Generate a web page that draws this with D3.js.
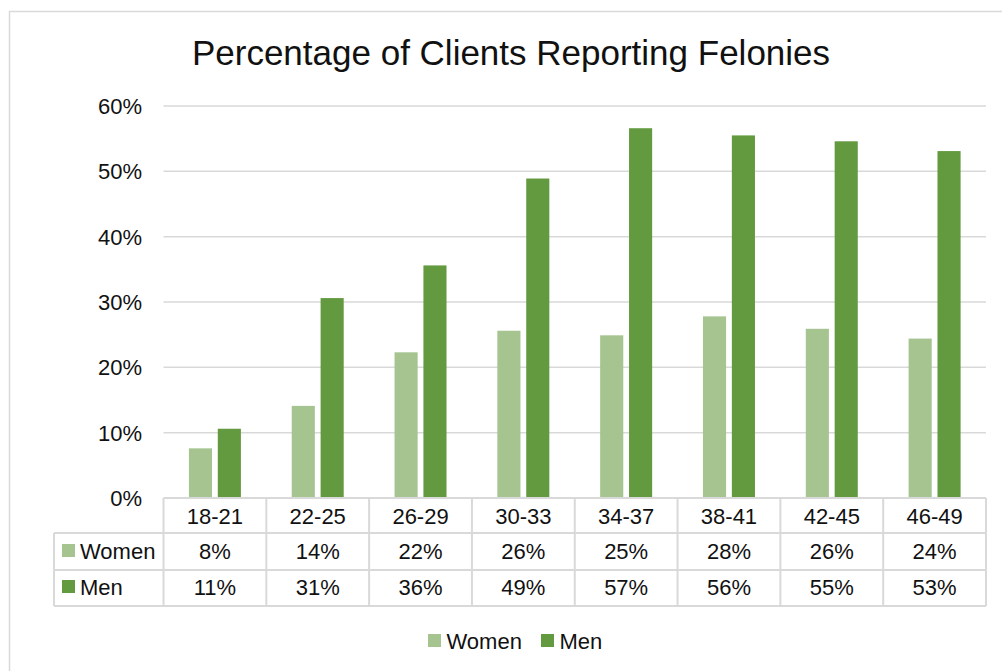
<!DOCTYPE html>
<html>
<head>
<meta charset="utf-8">
<script src="https://cdn.jsdelivr.net/npm/d3@7"></script>
<style>
body { margin: 0; background: #fff; }
text { font-family: "Liberation Sans", Arial, sans-serif; fill: #111; }
.grid line { stroke: #d9d9d9; stroke-width: 1.5; }
.tbl line { stroke: #d9d9d9; stroke-width: 2; }
</style>
</head>
<body>
<svg id="chart"></svg>
<script>
var ageGroups = ["18-21", "22-25", "26-29", "30-33", "34-37", "38-41", "42-45", "46-49"];
var seriesNames = ["Women", "Men"];
var women = [0.076, 0.141, 0.223, 0.256, 0.249, 0.278, 0.259, 0.244];
var men = [0.106, 0.306, 0.356, 0.489, 0.566, 0.555, 0.546, 0.531];
var colors = ["#a5c490", "#639a3f"];
var yTicks = [0, 0.1, 0.2, 0.3, 0.4, 0.5, 0.6];

var width = 1002;
var height = 671;
var plotLeft = 163.5;
var plotRight = 986;
var plotTop = 106;
var plotBottom = 498;
var rowTop = [498, 533, 570, 606];
var keyLeft = 54;
var smallFont = "22px";

var svg = d3.select("#chart")
.attr("width", width)
.attr("height", height);

// chart frame
svg.append("path")
.attr("d", "M9.5,680 L9.5,11.5 L1010,11.5")
.attr("fill", "none")
.attr("stroke", "#d9d9d9")
.attr("stroke-width", 1.5);

svg.append("text")
.attr("x", 511)
.attr("y", 65)
.attr("text-anchor", "middle")
.style("font-size", "35px")
.text("Percentage of Clients Reporting Felonies");

var x0 = d3.scaleBand()
.domain(ageGroups)
.range([plotLeft, plotRight]);

var x1 = d3.scaleBand()
.domain(seriesNames)
.range([0, x0.bandwidth()])
.paddingInner(0.2)
.paddingOuter(0.88);

var y = d3.scaleLinear()
.domain([0, 0.6])
.range([plotBottom, plotTop]);

var pct = d3.format(".0%");

var gGrid = svg.append("g")
.attr("class", "grid");
gGrid.selectAll("line")
.data(yTicks.slice(1))
.join("line")
.attr("x1", plotLeft)
.attr("x2", plotRight)
.attr("y1", function(d) { return y(d); })
.attr("y2", function(d) { return y(d); });

svg.append("g")
.selectAll("text")
.data(yTicks)
.join("text")
.attr("x", 142)
.attr("y", function(d) { return y(d); })
.attr("dy", "0.36em")
.attr("text-anchor", "end")
.style("font-size", "22px")
.text(function(d) { return pct(d); });

var seriesData = [women, men];

var gBars = svg.append("g");
seriesData.forEach(function(vals, si) {
	gBars.append("g")
	.attr("fill", colors[si])
	.selectAll("rect")
	.data(vals)
	.join("rect")
	.attr("x", function(d, i) { return x0(ageGroups[i]) + x1(seriesNames[si]); })
	.attr("y", function(d) { return y(d); })
	.attr("width", x1.bandwidth())
	.attr("height", function(d) { return plotBottom - y(d); });
});

// data table under the axis
var gTable = svg.append("g")
.attr("class", "tbl");

gTable.append("line")
.attr("x1", plotLeft).attr("x2", plotRight)
.attr("y1", rowTop[0]).attr("y2", rowTop[0]);
rowTop.slice(1).forEach(function(ry) {
	gTable.append("line")
	.attr("x1", keyLeft).attr("x2", plotRight)
	.attr("y1", ry).attr("y2", ry);
});
gTable.append("line")
.attr("x1", keyLeft).attr("x2", keyLeft)
.attr("y1", rowTop[1]).attr("y2", rowTop[3]);
ageGroups.forEach(function(a) {
	gTable.append("line")
	.attr("x1", x0(a)).attr("x2", x0(a))
	.attr("y1", rowTop[0]).attr("y2", rowTop[3]);
});
gTable.append("line")
.attr("x1", plotRight).attr("x2", plotRight)
.attr("y1", rowTop[0]).attr("y2", rowTop[3]);

svg.append("g")
.selectAll("text")
.data(ageGroups)
.join("text")
.attr("x", function(d) { return x0(d) + x0.bandwidth() / 2; })
.attr("y", 524)
.attr("text-anchor", "middle")
.style("font-size", smallFont)
.text(function(d) { return d; });

var rowBase = [559, 595];
seriesData.forEach(function(vals, si) {
	var gRow = svg.append("g");
	gRow.append("rect")
	.attr("x", 62)
	.attr("y", rowBase[si] - 15)
	.attr("width", 13)
	.attr("height", 13)
	.attr("fill", colors[si]);
	gRow.append("text")
	.attr("x", 80)
	.attr("y", rowBase[si])
	.style("font-size", smallFont)
	.text(seriesNames[si]);
	gRow.selectAll("text.val")
	.data(vals)
	.join("text")
	.attr("class", "val")
	.attr("x", function(d, i) { return x0(ageGroups[i]) + x0.bandwidth() / 2; })
	.attr("y", rowBase[si])
	.attr("text-anchor", "middle")
	.style("font-size", smallFont)
	.text(function(d) { return pct(d); });
});

// legend
var legendX = [428, 541];
var gLegend = svg.append("g");
seriesNames.forEach(function(name, si) {
	gLegend.append("rect")
	.attr("x", legendX[si])
	.attr("y", 634)
	.attr("width", 13)
	.attr("height", 13)
	.attr("fill", colors[si]);
	gLegend.append("text")
	.attr("x", legendX[si] + 18.5)
	.attr("y", 649)
	.style("font-size", smallFont)
	.text(name);
});
</script>
</body>
</html>
